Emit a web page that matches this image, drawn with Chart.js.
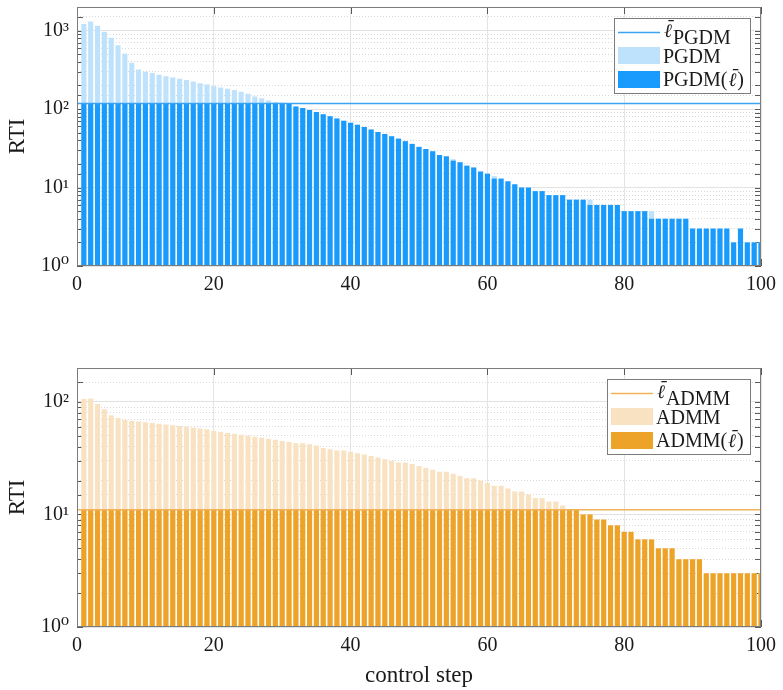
<!DOCTYPE html>
<html>
<head>
<meta charset="utf-8">
<title>RTI per control step</title>
<script src="https://cdn.jsdelivr.net/npm/chart.js@4.4.1/dist/chart.umd.min.js"></script>
<style>
  html, body { margin: 0; padding: 0; background: #ffffff; overflow: hidden; }
  #wrap { position: relative; width: 783px; height: 690px; overflow: hidden; }
  .panel { position: absolute; left: 0; width: 783px; }
  #p1 { top: -30px; height: 330px; }
  #p2 { top: 300px; height: 390px; }
</style>
</head>
<body>
<div id="wrap">
  <div class="panel" id="p1"><canvas id="c1" width="783" height="330"></canvas></div>
  <div class="panel" id="p2"><canvas id="c2" width="783" height="390"></canvas></div>
</div>
<script>
// control steps 1..100
const steps = Array.from({ length: 100 }, (_, i) => i + 1);
const xTicks = [0, 20, 40, 60, 80, 100];

// PGDM iterations per step (uncapped)
const pgdm = [
  1210, 1310, 1150, 966, 810, 653, 506, 389, 320, 299,
  288, 274, 263, 253, 243, 234, 225, 214, 206, 196,
  189, 181, 175, 166, 157, 145, 137, 129, 123, 121,
  118, 108, 103, 97, 92, 86, 81, 76, 71, 67,
  63, 59, 55, 51, 48, 45, 42, 39, 36, 33,
  31, 29, 26, 25, 23, 21, 19, 18, 16, 15,
  14, 13, 12, 11, 10, 10, 9, 9, 8, 8,
  8, 7, 7, 7, 7, 6, 6, 6, 6, 5,
  5, 5, 5, 5, 4, 4, 4, 4, 4, 3,
  3, 3, 3, 3, 3, 2, 3, 2, 2, 2
];
// PGDM with iteration cap
const pgdmCapped = [
  118, 118, 118, 118, 118, 118, 118, 118, 118, 118,
  118, 118, 118, 118, 118, 118, 118, 118, 118, 118,
  118, 118, 118, 118, 118, 118, 118, 118, 118, 118,
  118, 108, 103, 97, 92, 86, 81, 76, 71, 67,
  63, 59, 55, 51, 48, 45, 42, 39, 36, 33,
  31, 29, 26, 25, 22, 21, 19, 18, 16, 15,
  13, 13, 12, 11, 10, 10, 9, 9, 8, 8,
  8, 7, 7, 7, 6, 6, 6, 6, 6, 5,
  5, 5, 5, 4, 4, 4, 4, 4, 4, 3,
  3, 3, 3, 3, 3, 2, 3, 2, 2, 2
];
const capPGDM = 118;

// ADMM iterations per step (uncapped)
const admm = [
  106, 107, 96, 86, 76, 72, 69, 68, 67, 66,
  65, 64, 63, 62, 61, 60, 59, 58, 57, 55,
  54, 53, 52, 51, 50, 49, 48, 47, 46, 45,
  44, 43, 43, 42, 41, 39, 38, 37, 37, 36,
  35, 34, 33, 32, 31, 30, 29, 29, 28, 27,
  26, 25, 24, 24, 23, 22, 21, 21, 20, 19,
  18, 18, 17, 16, 16, 15, 14, 14, 13, 13,
  12, 11, 11, 10, 10, 9, 9, 8, 8, 7,
  7, 6, 6, 6, 5, 5, 5, 4, 4, 4,
  4, 3, 3, 3, 3, 3, 3, 3, 3, 3
];
// ADMM with iteration cap
const admmCapped = [
  11, 11, 11, 11, 11, 11, 11, 11, 11, 11,
  11, 11, 11, 11, 11, 11, 11, 11, 11, 11,
  11, 11, 11, 11, 11, 11, 11, 11, 11, 11,
  11, 11, 11, 11, 11, 11, 11, 11, 11, 11,
  11, 11, 11, 11, 11, 11, 11, 11, 11, 11,
  11, 11, 11, 11, 11, 11, 11, 11, 11, 11,
  11, 11, 11, 11, 11, 11, 11, 11, 11, 11,
  11, 11, 11, 10, 10, 9, 9, 8, 8, 7,
  7, 6, 6, 6, 5, 5, 5, 4, 4, 4,
  4, 3, 3, 3, 3, 3, 3, 3, 3, 3
];
const capADMM = 11;

const SERIF = '"Liberation Serif", "DejaVu Serif", serif';
const LSYM = 'italic 19px "DejaVu Serif", serif';
const SUP = { 0: '\u2070', 1: '\u00B9', 2: '\u00B2', 3: '\u00B3' };

const isDecade = v => {
  const l = Math.log10(v);
  return Math.abs(l - Math.round(l)) < 1e-9;
};

// split a label into plain runs and barred-ell runs
function runs(text) {
  const out = [];
  const re = /ℓ\u0304?/g;
  let last = 0, m;
  while ((m = re.exec(text)) !== null) {
    if (m.index > last) out.push({ t: text.slice(last, m.index), ell: false });
    out.push({ t: 'ℓ', ell: true });
    last = m.index + m[0].length;
  }
  if (last < text.length) out.push({ t: text.slice(last), ell: false });
  return out;
}
function runFont(r, size) { return r.ell ? LSYM : size + 'px ' + SERIF; }
function runsWidth(ctx, text, size) {
  return runs(text).reduce((w, r) => {
    ctx.font = runFont(r, size);
    return w + ctx.measureText(r.t).width + (r.ell ? 2 : 0);
  }, 0);
}
// draws the runs; a barred ell gets a spacing macron set just above it
function drawRuns(ctx, text, x, y, size) {
  runs(text).forEach(r => {
    ctx.font = runFont(r, size);
    if (r.ell) {
      const w = ctx.measureText(r.t).width;
      ctx.textAlign = 'left';
      ctx.fillText(r.t, x + 1, y);
      ctx.textAlign = 'center';
      ctx.fillText('\u00AF', x + 1 + w / 2 + 1.5, y - 3.5);
      ctx.textAlign = 'left';
      x += w + 2;
    } else {
      ctx.fillText(r.t, x, y);
      x += ctx.measureText(r.t).width;
    }
  });
  return x;
}

// inward tick marks (under the bars) and the axes box (over them)
const axesBox = {
  id: 'axesBox',
  beforeDatasetsDraw(chart) {
    const { ctx, chartArea: a, scales: { x, y } } = chart;
    ctx.save();
    ctx.strokeStyle = '#5a5a5a';
    ctx.lineWidth = 1;
    ctx.beginPath();
    x.ticks.forEach(t => {
      const px = Math.round(x.getPixelForValue(t.value)) + 0.5;
      ctx.moveTo(px, a.top); ctx.lineTo(px, a.top + 7);
      ctx.moveTo(px, a.bottom); ctx.lineTo(px, a.bottom - 7);
    });
    y.ticks.forEach(t => {
      const py = Math.round(y.getPixelForValue(t.value)) + 0.5;
      ctx.moveTo(a.left, py); ctx.lineTo(a.left + 6, py);
      ctx.moveTo(a.right, py); ctx.lineTo(a.right - 6, py);
    });
    ctx.stroke();
    ctx.restore();
  },
  afterDatasetsDraw(chart) {
    const { ctx, chartArea: a } = chart;
    ctx.save();
    ctx.strokeStyle = '#7c7c7c';
    ctx.lineWidth = 1;
    ctx.strokeRect(Math.round(a.left) + 0.5, Math.round(a.top) + 0.5,
                   Math.round(a.width) - 1, Math.round(a.height) - 1);
    ctx.restore();
  }
};

// boxed legend in the upper right corner of the plot area
const boxLegend = {
  id: 'boxLegend',
  afterDraw(chart) {
    const { ctx, chartArea: a } = chart;
    const ds = chart.data.datasets;
    const size = 20;
    ctx.save();
    const textW = Math.max(...ds.map(d =>
      runsWidth(ctx, d.label, size) + (d.labelSub ? runsWidth(ctx, d.labelSub, size) : 0)));
    const sw = 42, rowH = 23.7;
    const w = Math.round(4 + sw + 3 + textW + 6);
    const h = 75;
    const right = Math.round(a.right) - 11;
    const top = Math.round(a.top) + 11;
    const left = right - w;
    ctx.fillStyle = '#ffffff';
    ctx.fillRect(left, top, w, h);
    ctx.strokeStyle = '#7c7c7c';
    ctx.lineWidth = 1;
    ctx.strokeRect(left + 0.5, top + 0.5, w, h);
    ds.forEach((d, i) => {
      const cy = top + 14 + i * rowH;
      const sx = left + 4;
      const tx = sx + sw + 3;
      if (d.type === 'line') {
        ctx.strokeStyle = d.borderColor;
        ctx.lineWidth = d.borderWidth;
        ctx.beginPath();
        ctx.moveTo(sx, Math.round(cy) + 0.5);
        ctx.lineTo(sx + sw, Math.round(cy) + 0.5);
        ctx.stroke();
      } else {
        ctx.fillStyle = d.backgroundColor;
        ctx.fillRect(sx, Math.round(cy - 8.5), sw, 17);
      }
      ctx.fillStyle = '#1a1a1a';
      ctx.textAlign = 'left';
      ctx.textBaseline = 'alphabetic';
      if (d.labelSub) {
        const nx = drawRuns(ctx, d.label, tx, cy + 5, size);
        drawRuns(ctx, d.labelSub, nx, cy + 11.5, size);
      } else {
        drawRuns(ctx, d.label, tx, cy + 7, size);
      }
    });
    ctx.restore();
  }
};

function makePanel(canvasId, cfg) {
  const pts = arr => steps.map((s, i) => ({ x: s, y: arr[i] }));
  return new Chart(document.getElementById(canvasId), {
    type: 'bar',
    data: {
      datasets: [
        {
          type: 'line',
          label: 'ℓ\u0304',
          labelSub: cfg.name,
          data: [{ x: 0, y: cfg.cap }, { x: 100, y: cfg.cap }],
          borderColor: cfg.lineColor,
          borderWidth: 1.4,
          pointRadius: 0,
          order: 0,
          clip: 0
        },
        {
          label: cfg.name,
          data: pts(cfg.raw),
          backgroundColor: cfg.light,
          grouped: false,
          categoryPercentage: 1,
          barPercentage: 0.75,
          borderWidth: 0,
          order: 2,
          clip: 0
        },
        {
          label: cfg.name + '(ℓ\u0304)',
          data: pts(cfg.capped),
          backgroundColor: cfg.dark,
          grouped: false,
          categoryPercentage: 1,
          barPercentage: 0.75,
          borderWidth: 0,
          order: 1,
          clip: 0
        }
      ]
    },
    options: {
      responsive: false,
      animation: false,
      devicePixelRatio: 1,
      layout: { padding: cfg.padding },
      plugins: { legend: { display: false }, tooltip: { enabled: false } },
      scales: {
        x: {
          type: 'linear',
          min: 0,
          max: 100,
          offset: false,
          afterBuildTicks: s => { s.ticks = xTicks.map(v => ({ value: v })); },
          afterFit: s => { s.height = cfg.xHeight; },
          ticks: {
            font: { family: SERIF, size: 20 },
            color: '#1a1a1a',
            padding: 7,
            maxRotation: 0,
            autoSkip: false
          },
          grid: { color: '#e4e4e4', lineWidth: 1, drawTicks: false, offset: false },
          border: { display: false },
          title: cfg.xTitle ? {
            display: true,
            text: cfg.xTitle,
            font: { family: SERIF, size: 23 },
            color: '#1a1a1a',
            padding: { top: 0, bottom: 0 }
          } : { display: false }
        },
        y: {
          type: 'logarithmic',
          min: 1,
          max: cfg.yMax,
          afterFit: s => { s.width = 77; },
          ticks: {
            autoSkip: false,
            font: { family: SERIF, size: 20 },
            color: '#1a1a1a',
            padding: 8,
            callback: v => {
              if (!isDecade(v)) return '';
              return '10' + SUP[Math.round(Math.log10(v))];
            }
          },
          grid: {
            drawTicks: false,
            lineWidth: 1,
            color: c => (c.tick && isDecade(c.tick.value)) ? '#e2e2e2' : '#d9d9d9'
          },
          border: {
            display: false,
            dash: c => (c.tick && !isDecade(c.tick.value)) ? [1, 2] : []
          },
          title: {
            display: true,
            text: 'RTI',
            font: { family: SERIF, size: 23 },
            color: '#1a1a1a',
            padding: { top: 4, bottom: 6 }
          }
        }
      }
    },
    plugins: [axesBox, boxLegend]
  });
}

makePanel('c1', {
  name: 'PGDM',
  raw: pgdm,
  capped: pgdmCapped,
  cap: capPGDM,
  yMax: 2000,
  lineColor: '#3aa3f2',
  light: '#bfe2fc',
  dark: '#189bfd',
  padding: { left: 0, right: 19, top: 37, bottom: 0 },
  xHeight: 34,
  xTitle: null
});

makePanel('c2', {
  name: 'ADMM',
  raw: admm,
  capped: admmCapped,
  cap: capADMM,
  yMax: 200,
  lineColor: '#f0b35c',
  light: '#f9e2c1',
  dark: '#eda228',
  padding: { left: 0, right: 19, top: 68, bottom: 0 },
  xHeight: 63,
  xTitle: 'control step'
});
</script>
</body>
</html>
